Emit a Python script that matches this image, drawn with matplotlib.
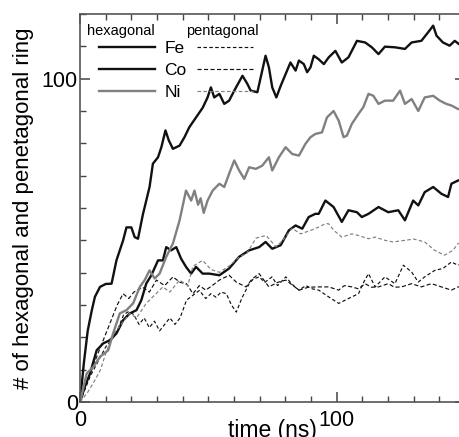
import matplotlib
matplotlib.use("Agg")
import matplotlib.pyplot as plt

plt.rcParams['font.family'] = ['Liberation Sans', 'DejaVu Sans']

# hexagonal rings (solid)
t_fe_hex = [0, 1.5, 3, 4.5, 5.8, 7.8, 10, 12.3, 14.2, 16.8, 18.1, 20, 21.3, 22.6, 24.5, 27.1, 28.4,
            30.4, 31.7, 33.3, 34.6, 36.2, 38.8, 40.7, 42.6, 45.2, 47.8, 49.7, 51, 52.3, 54.3, 56.2,
            58.1, 60.1, 63.3, 65.2, 66.5, 69.1, 71, 72.3, 73.6, 74.9, 76.5, 78.2, 80.1, 82, 84, 85.3,
            87.2, 88.5, 89.8, 91.1, 93, 95, 96.9, 99.5, 102, 104.6, 107.9, 111.1, 113.7, 116.3, 118.8,
            122.7, 126.6, 129.2, 133, 135.6, 137.6, 138.9, 141.4, 144, 146, 148, 150]
fe_hex = [0, 12, 22, 28, 32.5, 35.6, 36.5, 36.6, 43.8, 50, 54, 54, 51, 50.5, 58, 66.5, 73.7,
          75.7, 78.8, 84, 80.9, 78.3, 79.3, 81.9, 85, 88, 91, 94.2, 97.3, 94.2, 95.3, 92.2,
          93.2, 96.3, 100.9, 98.4, 96.3, 95.8, 102.5, 107.1, 103.5, 97.3, 94.2, 97.8, 101.4, 105, 102.5, 105.6,
          104.5, 102, 103.5, 107.1, 106, 104.5, 106.6, 108.6, 105, 106.6, 111.7, 111.2, 109.7, 107.6, 109.9,
          109.7, 109.2, 111.2, 111.7, 114.3, 116.4, 113.3, 111.2, 110.2, 111.7, 110.5, 111]

t_co_hex = [0, 2, 3.9, 6.5, 9, 11.6, 14.2, 16.8, 19.4, 22, 23.9, 25.8, 27.8, 30.4, 32.3, 33.6, 35.5,
            37.5, 39.4, 41.3, 43.3, 45.2, 47.8, 50.4, 54.3, 58.1, 62, 65.9, 69.8, 72.3, 74.9, 78.2,
            81.4, 84, 86.6, 89.1, 91.7, 93, 95.6, 98.8, 102, 104.6, 107.9, 109.8, 112.4, 116.3, 120.1,
            124, 126.6, 129.8, 131.8, 134.3, 137.6, 140.8, 143.4, 144.7, 147.3, 150]
co_hex = [0, 5, 8.8, 16, 18.1, 19.1, 21.2, 25.3, 27.4, 28.4, 31.5, 36.6, 39.2, 43.8, 43.8, 47.9, 46.9,
          47.9, 44.3, 41.8, 39.7, 41.8, 39.7, 39.7, 39.2, 41.3, 44.9, 46.9, 47.9, 49.5, 47.4, 48.5,
          53.1, 54.6, 53.6, 57.2, 58.2, 58.2, 62.3, 60.3, 55.7, 59.3, 58.7, 57.2, 58.2, 60.3, 58.7,
          59.3, 56.2, 62.3, 60.8, 64.9, 66.5, 64.4, 63.4, 67.5, 68.5, 69]

t_ni_hex = [0, 2.6, 5.2, 7.8, 11, 12.9, 15.5, 18.1, 20.7, 23.3, 25.2, 27.1, 29.1, 31, 33.6, 36.2, 38.8,
            41.3, 43.3, 44.6, 46, 47, 48.2, 49.7, 51.7, 54.3, 56.2, 58.1, 60.1, 62, 64, 65.9, 68.5, 71,
            73.6, 74.9, 77.5, 80.1, 82.7, 85.3, 87.8, 89.8, 91.7, 94.3, 96.2, 98.8, 100.8, 102.7, 104,
            105.9, 108.5, 110.4, 112.4, 114.3, 116.3, 118.8, 122, 124.7, 126.6, 129.2, 131.8, 134.3,
            137.6, 140.2, 142.7, 144.7, 147.3, 150]
ni_hex = [0, 8.8, 10.9, 14, 16, 21.2, 27.4, 28.4, 30.5, 35.6, 37.7, 40.7, 38.2, 39.7, 44.9, 49, 56.2,
          65.4, 62.3, 65.4, 61, 63, 58.5, 62.3, 65.4, 67.5, 66.5, 70.6, 74.7, 71.6, 69, 72.6, 72.1, 73.1,
          75.7, 71.6, 75.7, 78.8, 76.7, 76.2, 79.8, 81.9, 82.9, 83.4, 88, 90, 87, 81.9, 82.4,
          86, 89.1, 91.2, 95.3, 94.7, 92.2, 93.2, 93.2, 96.3, 92.2, 93.7, 90, 94.2,
          94.7, 93.2, 92.2, 91.7, 90.6, 90.5]

# pentagonal rings (dashed)
t_fe_pen = [0, 2, 4, 6, 8, 10, 13, 15, 17, 19, 21, 23, 25, 27, 29, 31, 33, 35, 37, 39, 41.5, 44, 46.5,
            49, 51, 53, 55, 57, 59, 60.9, 63, 65.9, 67.5, 69.8, 72, 74.8, 77, 80.2, 82.5, 85.3, 88, 90.5,
            93, 96.9, 100.8, 104.6, 108.5, 110.5, 112.4, 115, 118.8, 122.7, 126, 129.2, 131.8, 134.3,
            138.2, 141.4, 144.7, 147.3, 150]
fe_pen = [0, 4, 8, 11, 14, 17, 20, 23, 27, 28, 27, 24, 26, 23, 25, 22, 24, 26, 24, 26, 31.5, 33, 34.5,
          32, 33.5, 32.4, 34, 33.5, 30, 27.8, 32, 36.6, 38, 38.7, 37, 38.7, 36, 38.7, 36.5, 34.6, 36, 35,
          34.6, 32.5, 30.5, 32, 33.5, 37, 39.7, 35.6, 38.7, 36.6, 42.3, 40.2, 37.1, 38.7,
          40.7, 41.3, 43.3, 42.3, 43]

t_co_pen = [0, 2, 4, 6, 8, 10, 12, 14.5, 16.8, 19, 21, 24.4, 27, 29.8, 33, 36.2, 39, 41.5, 44, 46.5,
            49, 51.5, 54.3, 58.1, 61, 64.7, 67, 69.8, 73.6, 77, 80.2, 83, 85.3, 89, 93, 96.9, 100.8,
            103, 105.9, 108.5, 111.1, 113.5, 116.3, 120.1, 122.5, 125.3, 129.2, 133, 136.9, 140.8,
            144.7, 147.3, 150]
co_pen = [0, 5, 9, 13, 17, 21, 25, 30, 33.5, 32, 34, 35.5, 34, 37.7, 36, 38.7, 37, 36.6, 33.5, 36,
          34.6, 36, 37.7, 39.2, 37, 35.6, 38, 39.7, 35.6, 37, 37.7, 36, 34.6, 35.5, 35.6, 35.6, 34.6,
          36, 35.6, 35, 36.6, 35.5, 35.6, 36.6, 35.5, 35.6, 36.6, 35.6, 36.6, 35.6,
          34.6, 35.6, 35.2]

t_ni_pen = [0, 3, 6, 8, 10, 13, 16, 19.4, 22, 25.8, 29, 32.3, 35, 38.8, 42, 44, 47.8, 51, 54.3, 58, 62,
            65, 68.6, 72.5, 76.4, 79, 82.6, 86, 90.3, 93, 95.7, 96.9, 99, 102, 105.9, 108.5, 112.4,
            115, 118.8, 122, 126.6, 130, 134.3, 138.2, 142, 145.3, 147.3, 150]
ni_pen = [0, 3, 7, 10, 15, 21, 24, 27.4, 26, 30.5, 33, 35.6, 34, 37.7, 36, 42, 43.8, 41, 40.1, 42, 44.8,
          46, 50.7, 51.5, 48, 50, 53.7, 52, 53.2, 54.1, 55.2, 55.1, 53, 51, 52, 51.5, 50.5,
          51, 50, 49.5, 50, 50.4, 49.5, 46.9, 45.4, 46.9, 49, 49.5]

black = '#111111'
gray = '#808080'

fig = plt.figure(figsize=(4.6, 4.37), dpi=100)
ax = fig.add_axes([80 / 460, 35 / 437, 385 / 460, 388 / 437])

ax.plot(t_fe_hex, fe_hex, color=black, lw=1.7, label='Fe')
ax.plot(t_fe_pen, fe_pen, color=black, lw=0.85, dashes=(3, 2), label=' ')
ax.plot(t_co_hex, co_hex, color=black, lw=1.7, label='Co')
ax.plot(t_co_pen, co_pen, color=black, lw=0.85, dashes=(3.5, 2), label=' ')
ax.plot(t_ni_hex, ni_hex, color=gray, lw=1.7, label='Ni')
ax.plot(t_ni_pen, ni_pen, color=gray, lw=0.85, dashes=(3, 2), label=' ')

ax.set_xlim(0, 150)
ax.set_ylim(0, 120)
ax.set_xticks([0, 100])
ax.set_yticks([0, 100])
ax.set_xticks(range(0, 151, 10), minor=True)
ax.set_yticks(range(0, 121, 10), minor=True)
ax.tick_params(which='both', direction='in', top=True, right=True, colors='#444444',
               labelcolor='black', labelsize=15.5)
ax.tick_params(which='major', length=7, width=1.1)
ax.tick_params(which='minor', length=4, width=1)
ax.tick_params(axis='x', pad=6)
ax.tick_params(axis='y', pad=1.5)
for s in ax.spines.values():
    s.set_color('#555555')
    s.set_linewidth(1.2)

ax.set_xlabel('time (ns)', fontsize=16.5)
ax.xaxis.set_label_coords(0.5, -0.045)
ax.set_ylabel('# of hexagonal and penetagonal ring', fontsize=16)
ax.yaxis.label.set_va('center')
ax.yaxis.set_label_coords(-0.148, 0.5)

handles, labels = ax.get_legend_handles_labels()
order = [0, 2, 4, 1, 3, 5]
leg = ax.legend([handles[i] for i in order], [labels[i] for i in order], ncol=2,
                loc='upper left', bbox_to_anchor=(0.05, 0.93), frameon=False,
                fontsize=12.5, handlelength=3.2, handletextpad=0.55, columnspacing=0.6,
                labelspacing=0.38, borderpad=0, borderaxespad=0)

ax.text(0.107, 0.956, 'hexagonal', transform=ax.transAxes, ha='center', va='center', fontsize=10.5)
ax.text(0.371, 0.956, 'pentagonal', transform=ax.transAxes, ha='center', va='center', fontsize=10.5)

fig.savefig('out.png', dpi=100)
